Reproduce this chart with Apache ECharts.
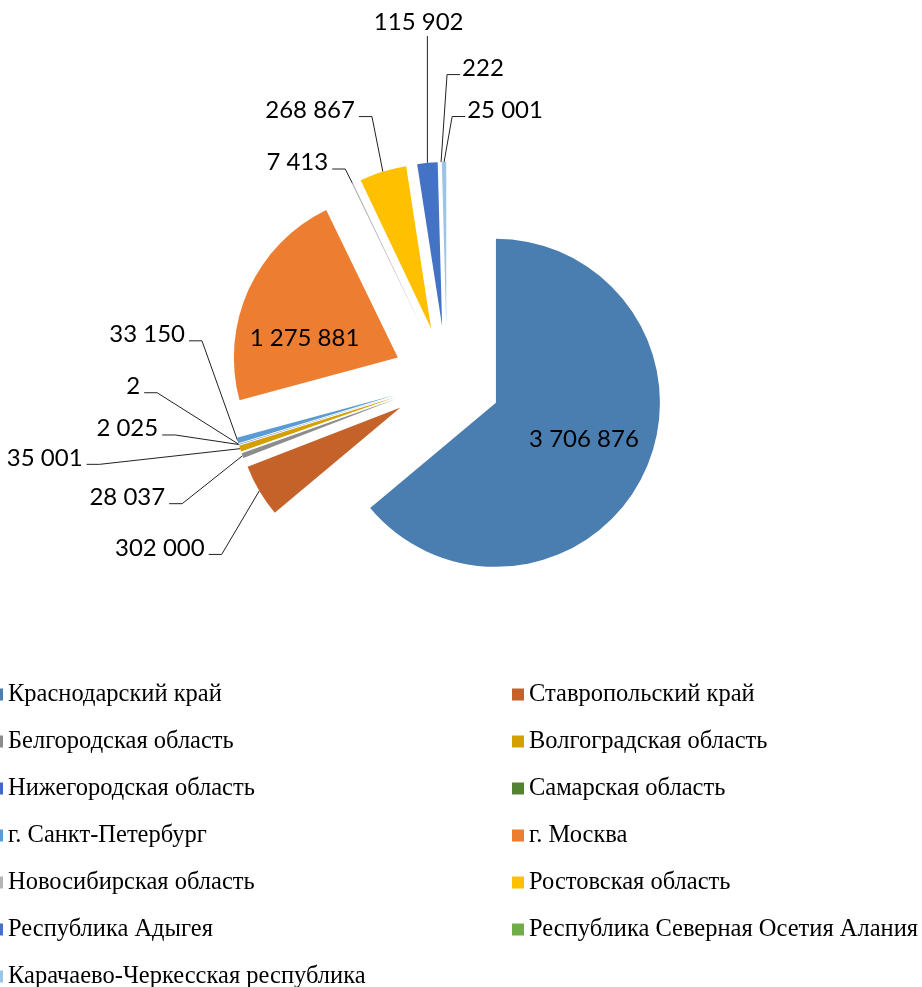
<!DOCTYPE html>
<html>
<head>
<meta charset="utf-8">
<script src="https://cdn.jsdelivr.net/npm/echarts@6/dist/echarts.min.js"></script>
<style>
html,body{margin:0;padding:0;background:#fff;}
#main{width:922px;height:987px;}
</style>
</head>
<body>
<div id="main"></div>
<script>
const regions = [
  'Краснодарский край',
  'Ставропольский край',
  'Белгородская область',
  'Волгоградская область',
  'Нижегородская область',
  'Самарская область',
  'г. Санкт-Петербург',
  'г. Москва',
  'Новосибирская область',
  'Ростовская область',
  'Республика Адыгея',
  'Республика Северная Осетия Алания',
  'Карачаево-Черкесская республика'
];
const values = [3706876, 302000, 28037, 35001, 2025, 2, 33150, 1275881, 7413, 268867, 115902, 222, 25001];

const palette = ['#4a7eb0', '#c5622a', '#8c8c8c', '#d4a000', '#3f6bc4', '#548235', '#5b9bd5',
                 '#ed7d31', '#b4b4b4', '#ffc000', '#4472c4', '#70ad47', '#9dc3e6'];
const insideIdx = [0, 7];
// label nudges and leader-line attachment side (style only)
const labelDx = [11, -31, -53, -133, -56, -74, -28, -16, -5, -10, 52, 78, 114];
const labelDy = [0, 52, 38, 6, -19, -61, -109, 16, -12, -52, -131, -84, -42];
const labelSide = ['', 'L', 'L', 'L', 'L', 'L', 'L', '', 'L', 'L', 'B', 'R', 'R'];

function fmt(v) {
  return String(v).replace(/\B(?=(\d{3})+(?!\d))/g, ' ');
}

const data = regions.map((name, i) => ({
  name: name,
  value: values[i],
  selected: true,
  itemStyle: { color: palette[i] },
  label: insideIdx.includes(i) ? { position: 'inside' } : { position: 'outside' },
  labelLine: { show: !insideIdx.includes(i) }
}));

const leftNames = regions.filter((_, i) => i % 2 === 0);
const rightNames = regions.filter((_, i) => i % 2 === 1);

const legendText = { fontFamily: '"Liberation Serif", "Times New Roman", serif', fontSize: 24.5, color: '#000', lineHeight: 24 };

function layoutLabel(p) {
  const i = p.dataIndex;
  const dx = labelDx[i], dy = labelDy[i];
  const side = labelSide[i];
  if (!side || !p.labelLinePoints) return { dx: dx, dy: dy };
  const r = p.labelRect;
  const x = r.x + dx, y = r.y + dy, w = r.width, h = r.height;
  const cy = y + h / 2 + 6.5;
  const p0 = p.labelLinePoints[0];
  let p1, p2;
  if (side === 'L') {
    p2 = [x + w + 4, cy];
    p1 = [x + w + 17, cy];
  } else if (side === 'R') {
    p2 = [x - 2, cy];
    p1 = [x - 15, cy];
  } else {
    p2 = [p0[0], y + h + 2];
    p1 = [p0[0], y + h + 2];
  }
  return { dx: dx, dy: dy, labelLinePoints: [p0, p1, p2] };
}

const chart = echarts.init(document.getElementById('main'), null, { renderer: 'canvas' });
chart.setOption({
  animation: false,
  backgroundColor: '#fff',
  legend: [
    {
      data: leftNames, orient: 'vertical', left: -9, top: 682, height: 330, padding: 0,
      itemWidth: 12, itemHeight: 12, itemGap: 22, icon: 'rect',
      selectedMode: false, textStyle: legendText
    },
    {
      data: rightNames, orient: 'vertical', left: 512, top: 682, height: 330, padding: 0,
      itemWidth: 12, itemHeight: 12, itemGap: 22, icon: 'rect',
      selectedMode: false, textStyle: legendText
    }
  ],
  series: [{
    type: 'pie',
    center: [447, 380],
    radius: 164,
    startAngle: 90,
    clockwise: true,
    selectedMode: 'multiple',
    selectedOffset: 54,
    avoidLabelOverlap: false,
    emphasis: { disabled: true },
    itemStyle: { borderWidth: 0 },
    label: {
      formatter: p => fmt(p.value),
      fontFamily: 'Lato, "Open Sans", sans-serif',
      fontSize: 24,
      color: '#000'
    },
    labelLine: {
      length: 10, length2: 10,
      lineStyle: { color: '#222', width: 1 }
    },
    labelLayout: layoutLabel,
    data: data
  }]
});
</script>
</body>
</html>
